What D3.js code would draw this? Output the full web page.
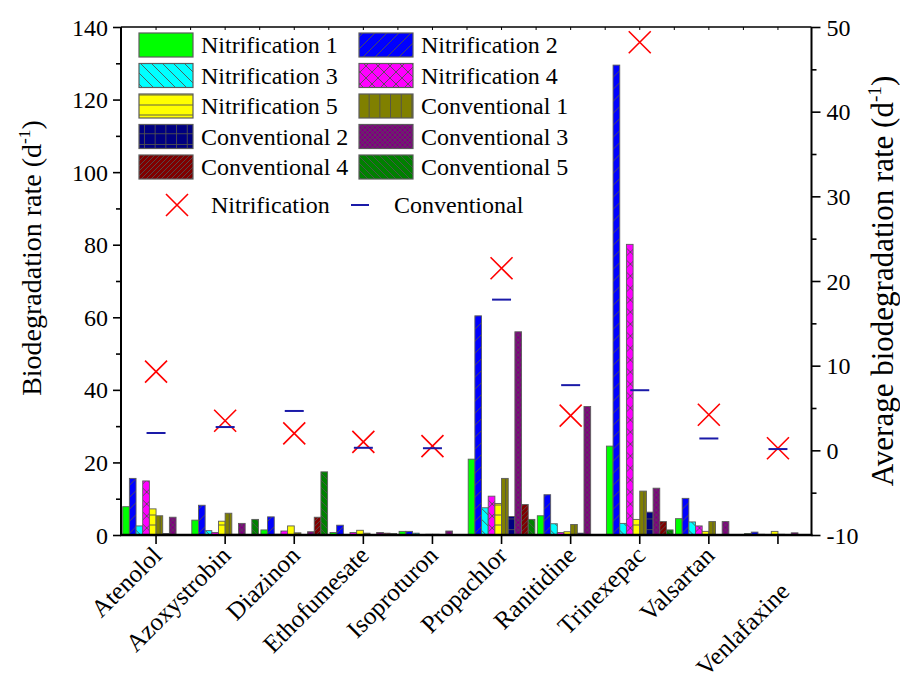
<!DOCTYPE html>
<html>
<head>
<meta charset="utf-8">
<script src="https://cdn.jsdelivr.net/npm/d3@7"></script>
<style>
  body { margin: 0; background: #fff; }
  svg { display: block; }
</style>
</head>
<body>
<svg id="chart" width="900" height="684"></svg>
<script>
// Compounds on the x axis
const categories = ["Atenolol", "Azoxystrobin", "Diazinon", "Ethofumesate", "Isoproturon",
                    "Propachlor", "Ranitidine", "Trinexepac", "Valsartan", "Venlafaxine"];

// Biodegradation rate (d^-1) per reactor, one value per compound
const nitrification1 = [7.8, 4.1, 1.4, 0.7, 1.0, 20.9, 5.3, 24.5, 4.5, 0.4];
const nitrification2 = [15.6, 8.2, 5.0, 2.7, 1.0, 60.4, 11.1, 129.5, 10.1, 0.8];
const nitrification3 = [2.5, 1.2, 0.2, 0.1, 0.5, 7.5, 3.1, 3.2, 3.6, 0.2];
const nitrification4 = [14.9, 0.7, 1.1, 0.7, 0.1, 10.7, 0.7, 80.1, 2.5, 0.1];
const nitrification5 = [7.2, 3.8, 2.5, 1.3, 0.2, 8.7, 0.9, 4.3, 1.0, 1.0];
const conventional1 = [5.3, 6.0, 0.6, 0.5, 0.2, 15.6, 2.9, 12.1, 3.7, 0.2];
const conventional2 = [0.4, 0.2, 0.1, 0.1, 0.1, 5.1, 0.5, 6.3, 0.1, 0.1];
const conventional3 = [4.9, 3.2, 0.9, 0.7, 1.1, 56.0, 35.4, 12.9, 3.7, 0.6];
const conventional4 = [0.1, 0.1, 4.9, 0.5, 0.1, 8.4, 0.1, 3.7, 0.1, 0.1];
const conventional5 = [0.1, 4.3, 17.4, 0.4, 0.1, 4.3, 0.1, 1.4, 0.1, 0.1];

// Average biodegradation rate (right axis)
const nitrificationAvg = [9.3, 3.5, 2.0, 1.0, 0.5, 21.5, 4.1, 48.2, 4.2, 0.25];
const conventionalAvg = [2.05, 2.75, 4.65, 0.3, 0.25, 17.8, 7.7, 7.1, 1.4, 0.15];

// Axis ticks
const leftTicks = [0, 20, 40, 60, 80, 100, 120, 140];
const leftMinor = [10, 30, 50, 70, 90, 110, 130];
const rightTicks = [-10, 0, 10, 20, 30, 40, 50];
const rightMinor = [-5, 5, 15, 25, 35, 45];

const seriesNames = ["Nitrification 1", "Nitrification 2", "Nitrification 3", "Nitrification 4", "Nitrification 5",
                     "Conventional 1", "Conventional 2", "Conventional 3", "Conventional 4", "Conventional 5"];
const seriesValues = [nitrification1, nitrification2, nitrification3, nitrification4, nitrification5,
                      conventional1, conventional2, conventional3, conventional4, conventional5];
const seriesColors = ["#00ff00", "#0000ff", "#00ffff", "#ff00ff", "#ffff00",
                      "#808000", "#000080", "#800080", "#800000", "#008000"];
// hatch style and spacing for each series
const seriesHatch = [["none", 10], ["fwd", 12], ["back", 11], ["cross", 12], ["horiz", 10],
                     ["vert", 10.7], ["grid", 10.7], ["cross", 5], ["fwd", 5], ["back", 7]];

const serif = '"Liberation Serif"';
const svg = d3.select("#chart");
const plotL = 121, plotR = 811.5, plotT = 27, plotB = 535;

const x0 = d3.scaleBand().domain(categories).range([plotL + 0.5, plotR + 1])
  .paddingInner(0.035).paddingOuter(0.0175);
const x1 = d3.scaleBand().domain(d3.range(seriesNames.length)).range([0, x0.bandwidth()]);
const yL = d3.scaleLinear().domain([0, 140]).range([plotB, plotT]);
const yR = d3.scaleLinear().domain([-10, 50]).range([plotB, plotT]);

// text placed through a transform only
function label(parent, tx, ty, str, size, anchor, angle) {
  return parent.append("text")
    .attr("text-anchor", anchor || "start")
    .attr("transform", `translate(${tx},${ty})` + (angle ? ` rotate(${angle})` : ""))
    .attr("font-family", serif)
    .attr("font-size", size)
    .attr("fill", "#000")
    .text(str);
}

// hatch patterns
const defs = svg.append("defs");
seriesColors.forEach((c, i) => {
  const [kind, s] = seriesHatch[i];
  const p = defs.append("pattern").attr("id", "hatch" + i)
    .attr("patternUnits", "userSpaceOnUse").attr("width", s).attr("height", s);
  p.append("rect").attr("width", s).attr("height", s).attr("fill", c);
  let d = "";
  const fwd = `M0,${s} L${s},0 M${-s / 2},${s / 2} L${s / 2},${-s / 2} M${s / 2},${s * 1.5} L${s * 1.5},${s / 2}`;
  const back = `M0,0 L${s},${s} M${-s / 2},${s / 2} L${s / 2},${s * 1.5} M${s / 2},${-s / 2} L${s * 1.5},${s / 2}`;
  if (kind === "fwd") d = fwd;
  if (kind === "back") d = back;
  if (kind === "cross") d = fwd + " " + back;
  if (kind === "horiz") d = `M0,${s / 2} L${s},${s / 2}`;
  if (kind === "vert") d = `M${s / 2},0 L${s / 2},${s}`;
  if (kind === "grid") d = `M0,${s / 2} L${s},${s / 2} M${s / 2},0 L${s / 2},${s}`;
  if (d) p.append("path").attr("d", d).attr("stroke", "#505050")
    .attr("stroke-width", kind === "cross" && s < 6 ? 0.7 : 0.9).attr("fill", "none");
});

// bars
const groups = svg.append("g").selectAll("g").data(categories).join("g")
  .attr("transform", d => `translate(${x0(d)},0)`);
groups.selectAll("rect")
  .data((d, ci) => seriesValues.map((vals, si) => ({ si, v: vals[ci] })))
  .join("rect")
  .attr("x", d => x1(d.si))
  .attr("width", x1.bandwidth())
  .attr("y", d => yL(d.v))
  .attr("height", d => yL(0) - yL(d.v))
  .attr("fill", d => `url(#hatch${d.si})`)
  .attr("stroke", "#5c5c5c")
  .attr("stroke-width", 0.9);

// average markers on the right axis
const cx = c => x0(c) + x0.bandwidth() / 2;
const crossPath = "M-11,-11L11,11M-11,11L11,-11";
svg.append("g").selectAll("path").data(categories).join("path")
  .attr("d", crossPath)
  .attr("transform", (c, i) => `translate(${cx(c)},${yR(nitrificationAvg[i])})`)
  .attr("stroke", "#ff0000").attr("stroke-width", 1.6).attr("fill", "none");
svg.append("g").selectAll("line").data(categories).join("line")
  .attr("x1", c => cx(c) - 9.5).attr("x2", c => cx(c) + 9.5)
  .attr("y1", (c, i) => yR(conventionalAvg[i])).attr("y2", (c, i) => yR(conventionalAvg[i]))
  .attr("stroke", "#1a1aa8").attr("stroke-width", 2);

// axes (tick marks from d3, tick labels added below)
function styleAxis(g) {
  g.attr("font-family", serif);
  g.select(".domain").remove();
  g.selectAll(".tick line").attr("stroke", "#000").attr("stroke-width", 1.6);
  g.selectAll(".tick text").remove();
}
const leftAxis = svg.append("g").attr("transform", `translate(${plotL},0)`)
  .call(d3.axisLeft(yL).tickValues(leftTicks).tickSize(8))
  .call(styleAxis);
leftAxis.selectAll(".tick").each(function (d) { label(d3.select(this), -13, 8, String(d), 24, "end"); });
svg.append("g").attr("transform", `translate(${plotL},0)`)
  .call(d3.axisLeft(yL).tickValues(leftMinor).tickSize(5))
  .call(styleAxis);
const rightAxis = svg.append("g").attr("transform", `translate(${plotR},0)`)
  .call(d3.axisRight(yR).tickValues(rightTicks).tickSize(9))
  .call(styleAxis);
rightAxis.selectAll(".tick").each(function (d) { label(d3.select(this), 15, 8, String(d), 24, "start"); });
svg.append("g").attr("transform", `translate(${plotR},0)`)
  .call(d3.axisRight(yR).tickValues(rightMinor).tickSize(5))
  .call(styleAxis);

// category labels, rotated; the last one sits lower in this layout
const labelOffset = c => c === "Venlafaxine" ? [13, 58] : [7, 22];
const xAxis = svg.append("g").attr("transform", `translate(0,${plotB})`)
  .call(d3.axisBottom(x0).tickSize(9))
  .call(styleAxis);
xAxis.selectAll(".tick").each(function (c) {
  const [ox, oy] = labelOffset(c);
  label(d3.select(this), ox, oy, c, 25, "end", -45);
});

// small inward ticks along the top border
const topTicks = [];
categories.forEach(c => { topTicks.push(cx(c)); topTicks.push(cx(c) + x0.step() / 2); });
svg.append("g").selectAll("line").data(topTicks.filter(v => v < plotR - 2)).join("line")
  .attr("x1", d => d).attr("x2", d => d).attr("y1", plotT).attr("y2", plotT + 3)
  .attr("stroke", "#000").attr("stroke-width", 1);

// frame lines
svg.append("line").attr("x1", plotL).attr("x2", plotL).attr("y1", plotT).attr("y2", plotB)
  .attr("stroke", "#000").attr("stroke-width", 2);
svg.append("line").attr("x1", plotR).attr("x2", plotR).attr("y1", plotT).attr("y2", plotB)
  .attr("stroke", "#000").attr("stroke-width", 2);
svg.append("line").attr("x1", plotL).attr("x2", plotR).attr("y1", plotT).attr("y2", plotT)
  .attr("stroke", "#000").attr("stroke-width", 1.4);
svg.append("line").attr("x1", plotL - 1).attr("x2", plotR + 1).attr("y1", plotB).attr("y2", plotB)
  .attr("stroke", "#000").attr("stroke-width", 2.4);

// axis titles with superscript exponent
function axisTitle(text, tx, ty, fs) {
  const t = label(svg, tx, ty, null, fs, "middle", -90);
  t.append("tspan").attr("font-family", serif).text(text + " (d");
  t.append("tspan").attr("font-family", serif).attr("dy", -fs * 0.4).attr("font-size", fs * 0.62).text("-1");
  t.append("tspan").attr("font-family", serif).attr("dy", fs * 0.4).text(")");
}
axisTitle("Biodegradation rate", 41, 258, 28);
axisTitle("Average biodegradation rate", 893, 281, 31);

// legend
const legend = svg.append("g");
seriesNames.forEach((name, i) => {
  const col = i % 2, row = Math.floor(i / 2);
  const lx = col === 0 ? 139 : 359;
  const ly = 45 + row * 30.5;
  legend.append("rect").attr("x", lx).attr("y", ly - 12).attr("width", 54).attr("height", 24)
    .attr("fill", `url(#hatch${i})`).attr("stroke", "#5c5c5c").attr("stroke-width", 1.2);
  label(legend, lx + 62, ly + 8, name, 24, "start");
});
const ly2 = 205;
legend.append("path").attr("d", crossPath).attr("transform", `translate(177,${ly2})`)
  .attr("stroke", "#ff0000").attr("stroke-width", 1.6).attr("fill", "none");
label(legend, 211, ly2 + 8, "Nitrification", 24, "start");
legend.append("line").attr("x1", 351).attr("x2", 369).attr("y1", ly2).attr("y2", ly2)
  .attr("stroke", "#1a1aa8").attr("stroke-width", 2);
label(legend, 394, ly2 + 8, "Conventional", 24, "start");
</script>
</body>
</html>
